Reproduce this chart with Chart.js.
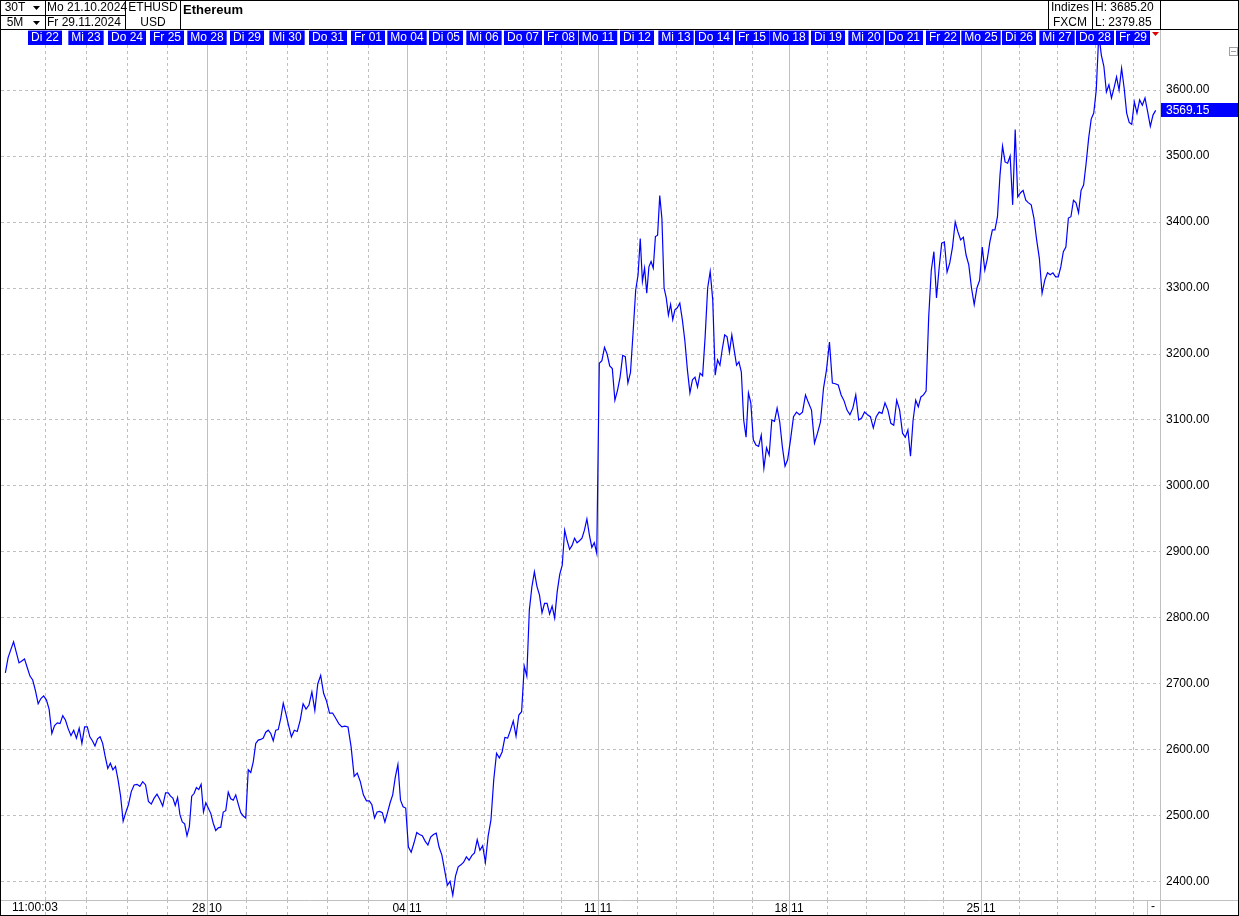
<!DOCTYPE html>
<html>
<head>
<meta charset="utf-8">
<title>Ethereum ETHUSD</title>
<script src="https://cdn.jsdelivr.net/npm/chart.js@4/dist/chart.umd.min.js"></script>
<style>
    html, body { margin: 0; padding: 0; background: #fff; }
    #chart { display: block; }
</style>
</head>
<body>
<canvas id="chart" width="1239" height="916"></canvas>
<script>
// trading days on the axis (the feed skips weekends)
const dayNames = ['Mo', 'Di', 'Mi', 'Do', 'Fr', 'Mo', 'Di', 'Mi', 'Do', 'Fr', 'Mo', 'Di', 'Mi', 'Do', 'Fr',
    'Mo', 'Di', 'Mi', 'Do', 'Fr', 'Mo', 'Di', 'Mi', 'Do', 'Fr', 'Mo', 'Di', 'Mi', 'Do', 'Fr'];
const dayDates = ['21.10', '22.10', '23.10', '24.10', '25.10', '28.10', '29.10', '30.10', '31.10', '01.11',
    '04.11', '05.11', '06.11', '07.11', '08.11', '11.11', '12.11', '13.11', '14.11', '15.11',
    '18.11', '19.11', '20.11', '21.11', '22.11', '25.11', '26.11', '27.11', '28.11', '29.11'];
// 5-minute bars recorded per day (days with gaps are narrower on the axis)
const dayBars = [287, 287, 287, 280, 280, 280, 280, 287, 280, 273, 273, 266, 273, 266, 259,
    273, 273, 266, 266, 259, 273, 266, 266, 273, 266, 266, 266, 266, 266, 168];

// ETHUSD readings, evenly spread over each day
const wk43 = [
    [2717, 2740, 2752, 2764, 2748, 2732, 2735, 2738, 2725, 2712, 2706, 2690, 2670, 2678, 2682],
    [2676, 2662, 2625, 2637, 2641, 2640, 2652, 2645, 2632, 2622, 2630, 2618, 2633, 2610, 2635],
    [2635, 2620, 2614, 2606, 2617, 2620, 2610, 2590, 2572, 2580, 2570, 2575, 2555, 2530, 2492, 2505],
    [2517, 2537, 2547, 2548, 2545, 2552, 2547, 2522, 2518, 2527, 2533, 2525, 2515, 2535],
    [2535, 2530, 2527, 2516, 2528, 2502, 2491, 2488, 2470, 2484, 2530, 2534, 2543, 2540, 2548, 2506, 2520]
];
const wk44 = [
    [2512, 2504, 2489, 2478, 2482, 2483, 2506, 2508, 2536, 2526, 2524, 2532, 2518, 2505, 2500, 2497],
    [2570, 2566, 2582, 2610, 2615, 2616, 2618, 2627, 2630, 2625, 2614, 2630, 2631, 2648, 2671, 2656],
    [2638, 2620, 2630, 2628, 2645, 2670, 2662, 2668, 2688, 2660, 2700, 2713, 2686, 2674],
    [2656, 2656, 2648, 2640, 2635, 2636, 2635, 2605, 2560, 2565, 2552, 2532, 2523],
    [2523, 2517, 2497, 2506, 2507, 2505, 2491, 2505, 2520, 2532, 2559, 2578, 2524, 2514, 2512]
];
const wk45 = [
    [2453, 2445, 2459, 2475, 2472, 2470, 2462, 2456, 2468, 2472, 2474, 2453, 2441, 2418],
    [2395, 2401, 2380, 2409, 2423, 2426, 2430, 2438, 2433, 2440, 2444, 2464, 2448, 2455],
    [2430, 2470, 2494, 2555, 2595, 2588, 2597, 2619, 2618, 2630, 2644, 2621, 2653, 2658],
    [2727, 2712, 2812, 2847, 2870, 2848, 2835, 2808, 2822, 2822, 2806, 2818, 2800, 2840, 2866],
    [2880, 2933, 2917, 2904, 2910, 2921, 2914, 2917, 2921, 2933, 2950, 2926, 2907, 2914, 2898]
];
const wk46 = [
    [3186, 3190, 3210, 3200, 3182, 3178, 3130, 3145, 3165, 3198, 3196, 3156, 3172, 3233, 3297],
    [3320, 3375, 3310, 3330, 3292, 3332, 3340, 3330, 3378, 3380, 3440, 3405, 3300, 3285, 3259, 3275, 3252, 3267],
    [3270, 3277, 3252, 3220, 3176, 3141, 3161, 3165, 3150, 3171, 3167, 3226, 3300, 3325, 3282],
    [3168, 3191, 3183, 3208, 3229, 3226, 3203, 3229, 3206, 3183, 3188, 3173, 3100, 3074, 3141, 3126],
    [3070, 3062, 3060, 3077, 3027, 3058, 3047, 3100, 3098, 3118, 3097, 3059, 3030, 3040]
];
const wk47 = [
    [3070, 3105, 3112, 3108, 3112, 3138, 3126, 3115, 3065, 3080, 3097, 3148, 3176],
    [3218, 3156, 3155, 3153, 3138, 3129, 3115, 3108, 3118, 3138, 3100, 3103, 3112],
    [3108, 3105, 3088, 3105, 3112, 3110, 3126, 3115, 3095, 3092, 3130, 3115, 3080],
    [3074, 3085, 3045, 3100, 3130, 3120, 3135, 3138, 3144, 3256, 3327, 3355, 3285, 3330, 3368],
    [3370, 3324, 3338, 3362, 3400, 3385, 3373, 3377, 3350, 3335, 3300, 3275, 3300, 3312]
];
const wk48 = [
    [3362, 3327, 3344, 3370, 3388, 3388, 3408, 3471, 3515, 3491, 3489, 3500, 3426, 3540, 3438],
    [3444, 3448, 3433, 3429, 3426, 3406, 3373, 3345, 3292, 3312, 3323, 3320, 3323, 3317],
    [3317, 3332, 3355, 3362, 3406, 3408, 3433, 3429, 3414, 3448, 3456, 3489, 3527, 3556, 3565],
    [3600, 3685, 3653, 3636, 3597, 3608, 3588, 3603, 3620, 3600, 3633, 3603, 3565, 3551, 3548],
    [3582, 3565, 3585, 3577, 3588, 3567, 3545, 3562, 3569.15]
];

const yTicks = [2400, 2500, 2600, 2700, 2800, 2900, 3000, 3100, 3200, 3300, 3400, 3500, 3600];
const yMin = 2372.7;
const yMax = 3668.2;
const high = 3685.20;
const low = 2379.85;

const FONT = '"Liberation Sans", Arial, sans-serif';
const gridGray = '#c0c0c0';
const blue = '#0000ff';

// build the points from the day readings
const sessions = [...wk43, ...wk44, ...wk45, ...wk46, ...wk47, ...wk48];
const dayStart = [];
let total = 0;
dayBars.forEach(b => { dayStart.push(total); total += b; });
const points = [];
sessions.forEach((vals, d) => {
    vals.forEach((v, i) => {
        points.push({ x: dayStart[d] + (i + 0.5) * dayBars[d] / vals.length, y: v });
    });
});
const lastPrice = points[points.length - 1].y;
const xMin = -21;
const xMax = total + 21;

const dayTicks = scale => {
    scale.ticks = dayStart.slice(1).map((v, k) => ({ value: v, day: k + 1 }));
};
const isWeekLine = ctx => ctx.tick && dayNames[ctx.tick.day] === 'Mo';

function seg(c, x1, y1, x2, y2) {
    c.beginPath();
    c.moveTo(x1, y1);
    c.lineTo(x2, y2);
    c.stroke();
}

function dropArrow(c, x, y) {
    c.beginPath();
    c.moveTo(x, y);
    c.lineTo(x + 7, y);
    c.lineTo(x + 3.5, y + 4);
    c.closePath();
    c.fill();
}

const framePlugin = {
    id: 'frame',
    beforeDraw(chart) {
        const c = chart.ctx;
        c.save();
        c.fillStyle = '#fff';
        c.fillRect(0, 0, chart.width, chart.height);
        c.restore();
    },
    afterDraw(chart) {
        const c = chart.ctx;
        const W = chart.width, H = chart.height;
        const yScale = chart.scales.y;
        c.save();

        // header boxes
        c.strokeStyle = '#000';
        c.lineWidth = 1;
        seg(c, 0, 15.5, 125, 15.5);
        seg(c, 0, 29.5, W, 29.5);
        [45.5, 125.5, 180.5, 1048.5, 1092.5, 1160.5].forEach(x => seg(c, x, 0, x, 29.5));

        c.fillStyle = '#000';
        c.textBaseline = 'middle';
        c.font = '12px ' + FONT;
        c.textAlign = 'center';
        c.fillText('30T', 15, 8);
        c.fillText('5M', 15, 23);
        c.fillText('ETHUSD', 153, 8);
        c.fillText('USD', 153, 23);
        c.fillText('Indizes', 1070, 8);
        c.fillText('FXCM', 1070, 23);
        c.textAlign = 'left';
        c.fillText('Mo 21.10.2024', 47, 8);
        c.fillText('Fr 29.11.2024', 47, 23);
        c.fillText('H: ' + high.toFixed(2), 1095, 8);
        c.fillText('L: ' + low.toFixed(2), 1095, 23);
        c.font = 'bold 13px ' + FONT;
        c.fillText('Ethereum', 183, 10);
        dropArrow(c, 33, 6);
        dropArrow(c, 33, 21);

        // red marker at the end of the day bar
        c.fillStyle = '#e00000';
        dropArrow(c, 1152, 32);

        // axis frame lines
        c.strokeStyle = gridGray;
        seg(c, 0, 900.5, W, 900.5);
        seg(c, 1160.5, 30, 1160.5, H);
        seg(c, 1147.5, 900.5, 1147.5, H);

        c.fillStyle = '#000';
        c.font = '12px ' + FONT;
        c.textAlign = 'left';
        c.fillText('11:00:03', 12, 908);
        c.fillText('-', 1151, 907);

        // collapse icon
        c.strokeStyle = '#a0a0a0';
        c.strokeRect(1229.5, 47.5, 8, 8);
        seg(c, 1231, 51.5, 1236, 51.5);

        // last price box on the price axis
        const py = Math.round(yScale.getPixelForValue(lastPrice));
        c.fillStyle = blue;
        c.fillRect(1161, py - 7, W - 1161, 14);
        c.fillStyle = '#fff';
        c.fillText(lastPrice.toFixed(2), 1166, py + 1);

        // outer frame
        c.strokeStyle = '#000';
        c.strokeRect(0.5, 0.5, W - 1, H - 1);
        c.restore();
    }
};

Chart.defaults.font.family = FONT;
Chart.defaults.font.size = 12;

new Chart(document.getElementById('chart'), {
    type: 'line',
    data: {
        datasets: [{
            data: points,
            borderColor: blue,
            borderWidth: 1.2,
            pointRadius: 0,
            tension: 0,
            fill: false,
            clip: false
        }]
    },
    options: {
        responsive: false,
        animation: false,
        devicePixelRatio: 1,
        layout: { padding: { left: 1, right: 0, top: 30, bottom: 1 } },
        plugins: {
            legend: { display: false },
            tooltip: { enabled: false }
        },
        scales: {
            x: {
                type: 'linear',
                position: 'bottom',
                min: xMin,
                max: xMax,
                afterBuildTicks: dayTicks,
                afterFit: s => { s.height = 15; },
                grid: {
                    color: gridGray,
                    lineWidth: 1,
                    drawTicks: true,
                    tickLength: 15,
                    tickColor: gridGray,
                    tickBorderDash: ctx => isWeekLine(ctx) ? [] : [3, 3]
                },
                border: { display: false, dash: ctx => isWeekLine(ctx) ? [] : [3, 3] },
                ticks: {
                    autoSkip: false,
                    maxRotation: 0,
                    padding: -14,
                    color: '#000',
                    callback: (v, i, ticks) => {
                        const d = ticks[i].day;
                        return dayNames[d] === 'Mo' ? dayDates[d].replace('.', ' ') : '';
                    }
                }
            },
            xTop: {
                type: 'linear',
                position: 'top',
                min: xMin,
                max: xMax,
                afterBuildTicks: dayTicks,
                afterFit: s => { s.height = 15; },
                grid: { display: false, drawTicks: false },
                border: { display: false },
                ticks: {
                    autoSkip: false,
                    maxRotation: 0,
                    padding: 0,
                    z: 1,
                    color: '#fff',
                    showLabelBackdrop: true,
                    backdropColor: blue,
                    backdropPadding: { top: 0, bottom: 0, left: 3, right: 3 },
                    callback: (v, i, ticks) => {
                        const d = ticks[i].day;
                        return dayNames[d] + ' ' + dayDates[d].slice(0, 2);
                    }
                }
            },
            y: {
                type: 'linear',
                position: 'right',
                min: yMin,
                max: yMax,
                afterBuildTicks: s => { s.ticks = yTicks.map(v => ({ value: v })); },
                afterFit: s => { s.width = 79; },
                grid: { color: gridGray, lineWidth: 1, drawTicks: false },
                border: { display: false, dash: [3, 3] },
                ticks: {
                    padding: 6,
                    color: '#000',
                    callback: v => v.toFixed(2)
                }
            }
        }
    },
    plugins: [framePlugin]
});
</script>
</body>
</html>
